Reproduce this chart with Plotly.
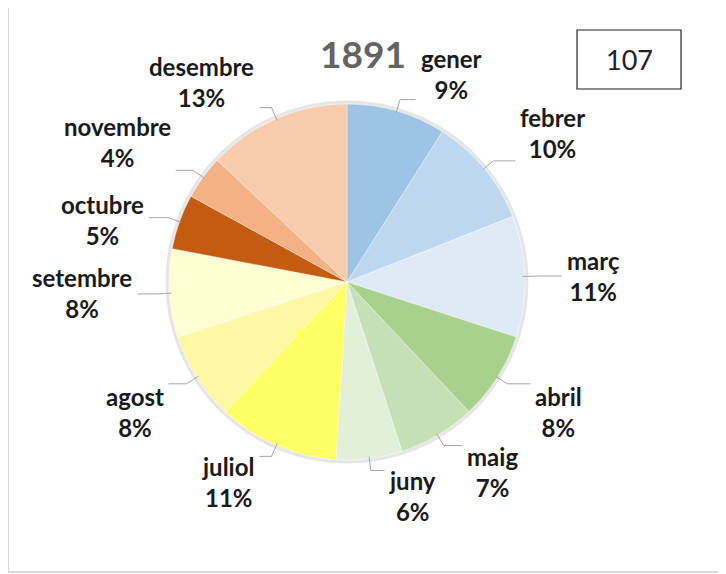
import math
import plotly.graph_objects as go

# ---- data ----
months = ["gener", "febrer", "març", "abril", "maig", "juny",
          "juliol", "agost", "setembre", "octubre", "novembre", "desembre"]
percent = [9, 10, 11, 8, 7, 6, 11, 8, 8, 5, 4, 13]
colors = ["#9DC3E6", "#BDD7EE", "#DEEBF7", "#A9D18E", "#C5E0B4", "#E2F0D9",
          "#FFFF66", "#FFF7A3", "#FFFDD2", "#C55A11", "#F4B183", "#F8CBAD"]
title_text = "1891"
box_text = "107"

# ---- layout geometry (screen pixels; page has an 8px body margin) ----
PAGE_W, PAGE_H = 726, 574
M = 8
W, H = PAGE_W - M, PAGE_H - M
CX, CY, R = 347, 282, 178
GAP_X, GAP_Y = 25, 5
SHIFT_R, SHIFT_L = 15, 10
FONT = "Lato, 'Open Sans', sans-serif"


def px_x(x):
    return (x - M) / W


def px_y(y):
    return 1 - (y - M) / H


fig = go.Figure()
fig.add_trace(go.Pie(
    labels=months, values=percent, sort=False, direction="clockwise",
    rotation=0, textinfo="none", hoverinfo="label+percent",
    marker=dict(colors=colors, line=dict(color="rgba(255,255,255,0.6)", width=0.6)),
    domain=dict(x=[px_x(CX - R), px_x(CX + R)], y=[px_y(CY + R), px_y(CY - R)]),
    showlegend=False,
))

annotations = []
shapes = []

total = sum(percent)
cum = 0
for name, v in zip(months, percent):
    mid = (cum + v / 2) / total * 2 * math.pi
    cum += v
    s, c = math.sin(mid), math.cos(mid)
    ax = CX + (R + GAP_X) * s
    ay = CY - (R + GAP_Y) * c
    if s > 0.1:
        xa = "left"
        ax += SHIFT_R
    elif s < -0.1:
        xa = "right"
        ax -= SHIFT_L
    else:
        xa = "center"
    if c > 0.35:
        ya = "bottom"
    elif c < -0.35:
        ya = "top"
    else:
        ya = "middle"
    annotations.append(dict(
        x=px_x(ax), y=px_y(ay), xref="paper", yref="paper",
        xanchor=xa, yanchor=ya, align="center", showarrow=False,
        text=f"<b>{name}<br>{round(v / total * 100)}%</b>",
        font=dict(family=FONT, size=24, color="#1a1a1a"),
    ))
    # leader line: slice edge -> outward -> short horizontal toward label
    ex, ey = CX + (R - 2) * s, CY - (R - 2) * c
    bx, by = CX + (R + 12) * s, CY - (R + 12) * c
    if xa == "left":
        hx = max(bx + 5, ax - 3)
    elif xa == "right":
        hx = min(bx - 5, ax + 3)
    else:
        hx = bx + (5 if s >= 0 else -5)
    shapes.append(dict(
        type="path", xref="paper", yref="paper",
        path=f"M {px_x(ex)},{px_y(ey)} L {px_x(bx)},{px_y(by)} L {px_x(hx)},{px_y(by)}",
        line=dict(color="#a6a6a6", width=1),
    ))

# soft shadow ring behind the pie
shapes.append(dict(
    type="circle", xref="paper", yref="paper", layer="below",
    x0=px_x(CX - R - 2), x1=px_x(CX + R + 2), y0=px_y(CY + R + 2), y1=px_y(CY - R - 2),
    line=dict(color="#e6e6e6", width=3), fillcolor="#eeeeee",
))

# outer chart border
shapes.append(dict(
    type="rect", xref="paper", yref="paper",
    x0=px_x(8), x1=1.05, y0=px_y(572), y1=px_y(5),
    line=dict(color="#d9d9d9", width=2),
))

# value box
shapes.append(dict(
    type="rect", xref="paper", yref="paper",
    x0=px_x(577), x1=px_x(681), y0=px_y(89), y1=px_y(30),
    line=dict(color="#222222", width=1.2),
))
annotations.append(dict(
    x=px_x(629), y=px_y(60), xref="paper", yref="paper", showarrow=False,
    xanchor="center", yanchor="middle", text=box_text,
    font=dict(family=FONT, size=27, color="#222222"),
))

# title
annotations.append(dict(
    x=px_x(363), y=px_y(53), xref="paper", yref="paper", showarrow=False,
    xanchor="center", yanchor="middle", text=f"<b>{title_text}</b>",
    font=dict(family=FONT, size=37, color="#646464"),
))

fig.update_layout(
    width=W, height=H, margin=dict(l=0, r=0, t=0, b=0),
    paper_bgcolor="white", plot_bgcolor="white",
    annotations=annotations, shapes=shapes,
)

fig.write_html("out.html")
